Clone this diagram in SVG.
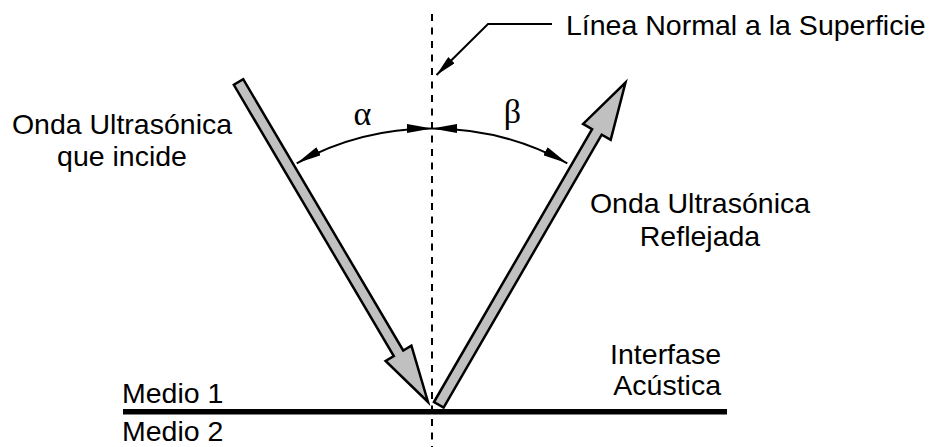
<svg xmlns="http://www.w3.org/2000/svg" width="936" height="447" viewBox="0 0 936 447">
<style>
.t{font-family:"Liberation Sans",Arial,sans-serif;font-size:28.5px;fill:#000}
.g{font-family:"Liberation Serif","Times New Roman",serif;font-size:34px;fill:#000}
.wave{fill:#c0c0c0;stroke:#000;stroke-width:2.5;stroke-linejoin:miter;stroke-miterlimit:6}
.arc{fill:none;stroke:#000;stroke-width:2}
</style>
<defs>
<marker id="ah" viewBox="0 0 25 9" refX="25" refY="4.5" markerWidth="25" markerHeight="9" markerUnits="userSpaceOnUse" orient="auto-start-reverse">
<path d="M0,0 L25,4.5 L0,9 z" fill="#000"/>
</marker>
<marker id="lh" viewBox="0 0 21 9" refX="21" refY="4.5" markerWidth="21" markerHeight="9" markerUnits="userSpaceOnUse" orient="auto">
<path d="M0,0 L21,4.5 L0,9 z" fill="#000"/>
</marker>
</defs>
<g id="interface">
<line x1="123" y1="411.8" x2="727" y2="411.8" stroke="#000" stroke-width="5.5"/>
</g>
<g id="normal">
<line x1="432" y1="14" x2="432" y2="447" stroke="#000" stroke-width="2" stroke-dasharray="7 6.5"/>
</g>
<g id="incident">
<polygon class="wave" points="233.8,84.8 243.2,79.2 403.2,350.5 411.4,345.7 428,402 385.6,360.9 393.8,356.1"/>
</g>
<g id="reflected">
<polygon class="wave" points="434,402 592.1,129.1 583.1,123.9 625.5,82.5 610.7,139.9 601.7,134.7 443.6,407.6"/>
</g>
<g id="connectors">
<path class="arc" d="M296.7,163.3 A279.5 279.5 0 0 1 432,128.5" marker-start="url(#ah)" marker-end="url(#ah)"/>
<path class="arc" d="M567.3,163.3 A279.5 279.5 0 0 0 432,128.5" marker-start="url(#ah)" marker-end="url(#ah)"/>
<polyline points="552,24 488,24 436.5,75" fill="none" stroke="#000" stroke-width="2" marker-end="url(#lh)"/>
</g>
<g id="labels">
<text class="t" x="566" y="35">Línea Normal a la Superficie</text>
<text class="t" x="122" y="134" text-anchor="middle">Onda Ultrasónica</text>
<text class="t" x="122" y="166" text-anchor="middle">que incide</text>
<text class="t" x="700" y="213" text-anchor="middle">Onda Ultrasónica</text>
<text class="t" x="700" y="246" text-anchor="middle">Reflejada</text>
<text class="t" x="721" y="364" text-anchor="end">Interfase</text>
<text class="t" x="721" y="395" text-anchor="end">Acústica</text>
<text class="t" x="122" y="403">Medio 1</text>
<text class="t" x="122" y="441">Medio 2</text>
<text class="g" x="362.5" y="125" text-anchor="middle">α</text>
<text class="g" x="512.5" y="123" text-anchor="middle">β</text>
</g>
</svg>
